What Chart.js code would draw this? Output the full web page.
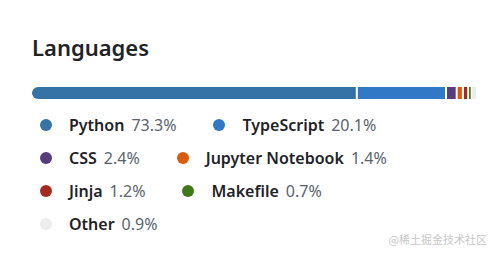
<!DOCTYPE html>
<html>
<head>
<meta charset="utf-8">
<script src="https://cdn.jsdelivr.net/npm/chart.js@4.4.1/dist/chart.umd.min.js"></script>
<style>
  html, body { margin: 0; padding: 0; background: #fff; }
  body { width: 497px; height: 254px; position: relative; overflow: hidden;
         font-family: "Noto Sans", "Open Sans", sans-serif; }
  h2 { position: absolute; left: 32px; top: 30px; margin: 0; font-size: 22px;
       font-weight: 600; color: #1f2328; line-height: 34px; }
  #barBox { position: absolute; left: 32px; top: 87px; width: 444px; height: 12px; }
  #legend { position: absolute; left: 32px; top: 108px; width: 462px;
            display: flex; flex-wrap: wrap; }
  .item { display: inline-flex; align-items: center; height: 33px; margin-right: 29px;
          font-size: 16px; white-space: nowrap; }
  .dot { width: 12px; height: 12px; border-radius: 50%; margin-left: 8px; margin-right: 17px; }
  .name { font-weight: 600; color: #1f2328; margin-right: 7px; }
  .pct { color: #59636e; }
  #mark { position: absolute; right: 10px; top: 231px; font-size: 11px; color: #c8c8c8;
          font-family: "Noto Sans CJK SC", sans-serif; }
</style>
</head>
<body>
<h2>Languages</h2>
<div id="barBox"><canvas id="langBar"></canvas></div>
<div id="legend"></div>
<div id="mark">@稀土掘金技术社区</div>
<script>
const languages = ["Python", "TypeScript", "CSS", "Jupyter Notebook", "Jinja", "Makefile", "Other"];
const percents = [73.3, 20.1, 2.4, 1.4, 1.2, 0.7, 0.9];
const colors = ["#3572A5", "#3178c6", "#563d7c", "#DA5B0B", "#a52a22", "#427819", "#ededed"];

document.addEventListener("DOMContentLoaded", function () {
  const last = languages.length - 1;
  const datasets = languages.map(function (name, i) {
    return {
      label: name,
      data: [percents[i]],
      backgroundColor: colors[i],
      borderColor: "#ffffff",
      borderWidth: i === last ? 0 : { right: 2 },
      borderSkipped: false,
      borderRadius: i === 0 ? { topLeft: 6, bottomLeft: 6 }
                  : i === last ? { topRight: 6, bottomRight: 6 } : 0,
    };
  });

  const ctx = document.getElementById("langBar").getContext("2d");
  new Chart(ctx, {
    type: "bar",
    data: { labels: ["Languages"], datasets: datasets },
    options: {
      indexAxis: "y",
      responsive: true,
      maintainAspectRatio: false,
      animation: false,
      layout: { padding: 0 },
      datasets: { bar: { barPercentage: 1, categoryPercentage: 1 } },
      scales: {
        x: { stacked: true, min: 0, max: 100, display: false },
        y: { stacked: true, display: false },
      },
      plugins: { legend: { display: false }, tooltip: { enabled: false } },
    },
  });

  // legend, built from the same arrays
  const legend = document.getElementById("legend");
  languages.forEach(function (name, i) {
    const item = document.createElement("span");
    item.className = "item";
    item.innerHTML = '<span class="dot" style="background:' + colors[i] + '"></span>' +
      '<span class="name">' + name + '</span><span class="pct">' + percents[i] + '%</span>';
    legend.appendChild(item);
  });
});
</script>
</body>
</html>
